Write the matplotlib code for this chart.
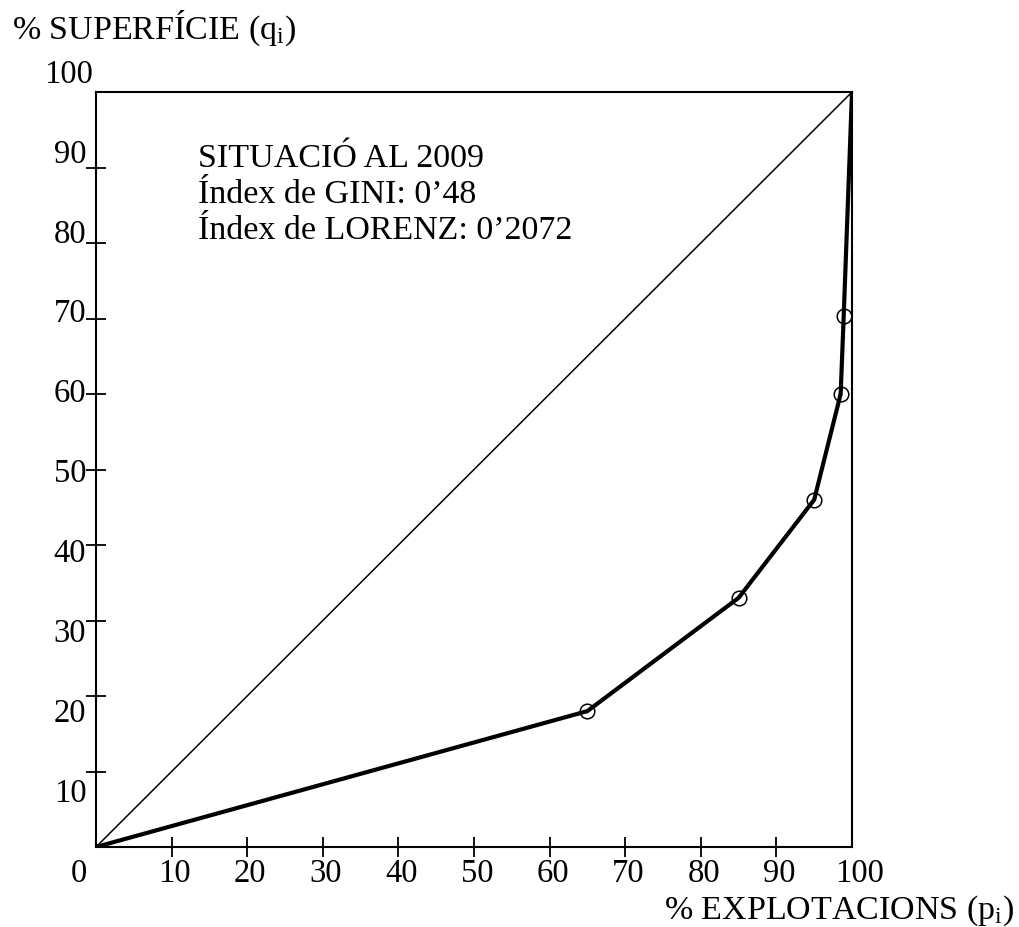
import matplotlib
matplotlib.use("Agg")
import matplotlib.pyplot as plt
from matplotlib.transforms import ScaledTranslation

plt.rcParams['font.family'] = ['Liberation Serif', 'DejaVu Serif']
plt.rcParams['mathtext.fontset'] = 'custom'
plt.rcParams['mathtext.rm'] = 'Liberation Serif'
plt.rcParams['mathtext.it'] = 'Liberation Serif'

# corba de Lorenz (punts llegits del gràfic)
explotacions = [0, 65, 85, 95, 98.5, 98.9, 100]
superficie = [0, 18, 33, 46, 60, 70.3, 100]
# punts marcats amb cercle
marca_x = [65, 85, 95, 98.5, 98.9]
marca_y = [18, 33, 46, 60, 70.3]

ticks = [0, 10, 20, 30, 40, 50, 60, 70, 80, 90, 100]
tick_labels = ['0', '10', '20', '30', '40', '50', '60', '70', '80', '90', '100']

text_info = ["SITUACIÓ AL 2009", "Índex de GINI: 0’48", "Índex de LORENZ: 0’2072"]

fs = 23.5   # etiquetes dels eixos
fs_txt = 24.5
fig = plt.figure(figsize=(10.2, 9.27), dpi=100)
ax = fig.add_axes([96/1020, 80/927, 756/1020, 755/927])

ax.plot([0, 100], [0, 100], color='black', lw=1.1)
ax.plot(explotacions, superficie, color='black', lw=3)
ax.plot(marca_x, marca_y, 'o', mfc='none', mec='black', ms=10.5, mew=1.1)

ax.set_xlim(0, 100)
ax.set_ylim(0, 100)
for s in ax.spines.values():
    s.set_linewidth(1.5)

ax.set_xticks(ticks)
ax.set_xticklabels(tick_labels)
ax.set_yticks(ticks)
ax.set_yticklabels(tick_labels)
ax.tick_params(direction='inout', length=14, width=1.3, labelsize=fs, pad=0)
ax.tick_params(axis='x', pad=1)

dpi = 100.0
xt = ax.xaxis.get_major_ticks()
for i, t in enumerate(xt):
    dx = 3
    if i == 0:
        dx = -17
    if i == len(xt) - 1:
        dx = 8
    t.label1.set_transform(t.label1.get_transform() + ScaledTranslation(dx/dpi, 0, fig.dpi_scale_trans))
xt[0].tick1line.set_visible(False)
xt[-1].tick1line.set_visible(False)

yt = ax.yaxis.get_major_ticks()
yt[0].label1.set_visible(False)
yt[0].tick1line.set_visible(False)
yt[-1].tick1line.set_visible(False)
for v, t in zip(ticks, yt):
    dy = -21 + 0.44 * (100 - v)
    dx = 7 if v == 100 else 0
    t.label1.set_transform(t.label1.get_transform() + ScaledTranslation(dx/dpi, -dy/dpi, fig.dpi_scale_trans))

y0 = 90.1
for k, linia in enumerate(text_info):
    ax.text(13.5, y0 - k*4.8, linia, fontsize=fs_txt, va='baseline', ha='left')

fig.text(12/1020, 1 - 39/927, r"% SUPERFÍCIE (q$_{\mathregular{i}}$)", fontsize=fs_txt, va='baseline', ha='left')
fig.text(1014/1020, 1 - 919/927, r"% EXPLOTACIONS (p$_{\mathregular{i}}$)", fontsize=fs_txt, va='baseline', ha='right')

fig.savefig('out.png', dpi=100)
